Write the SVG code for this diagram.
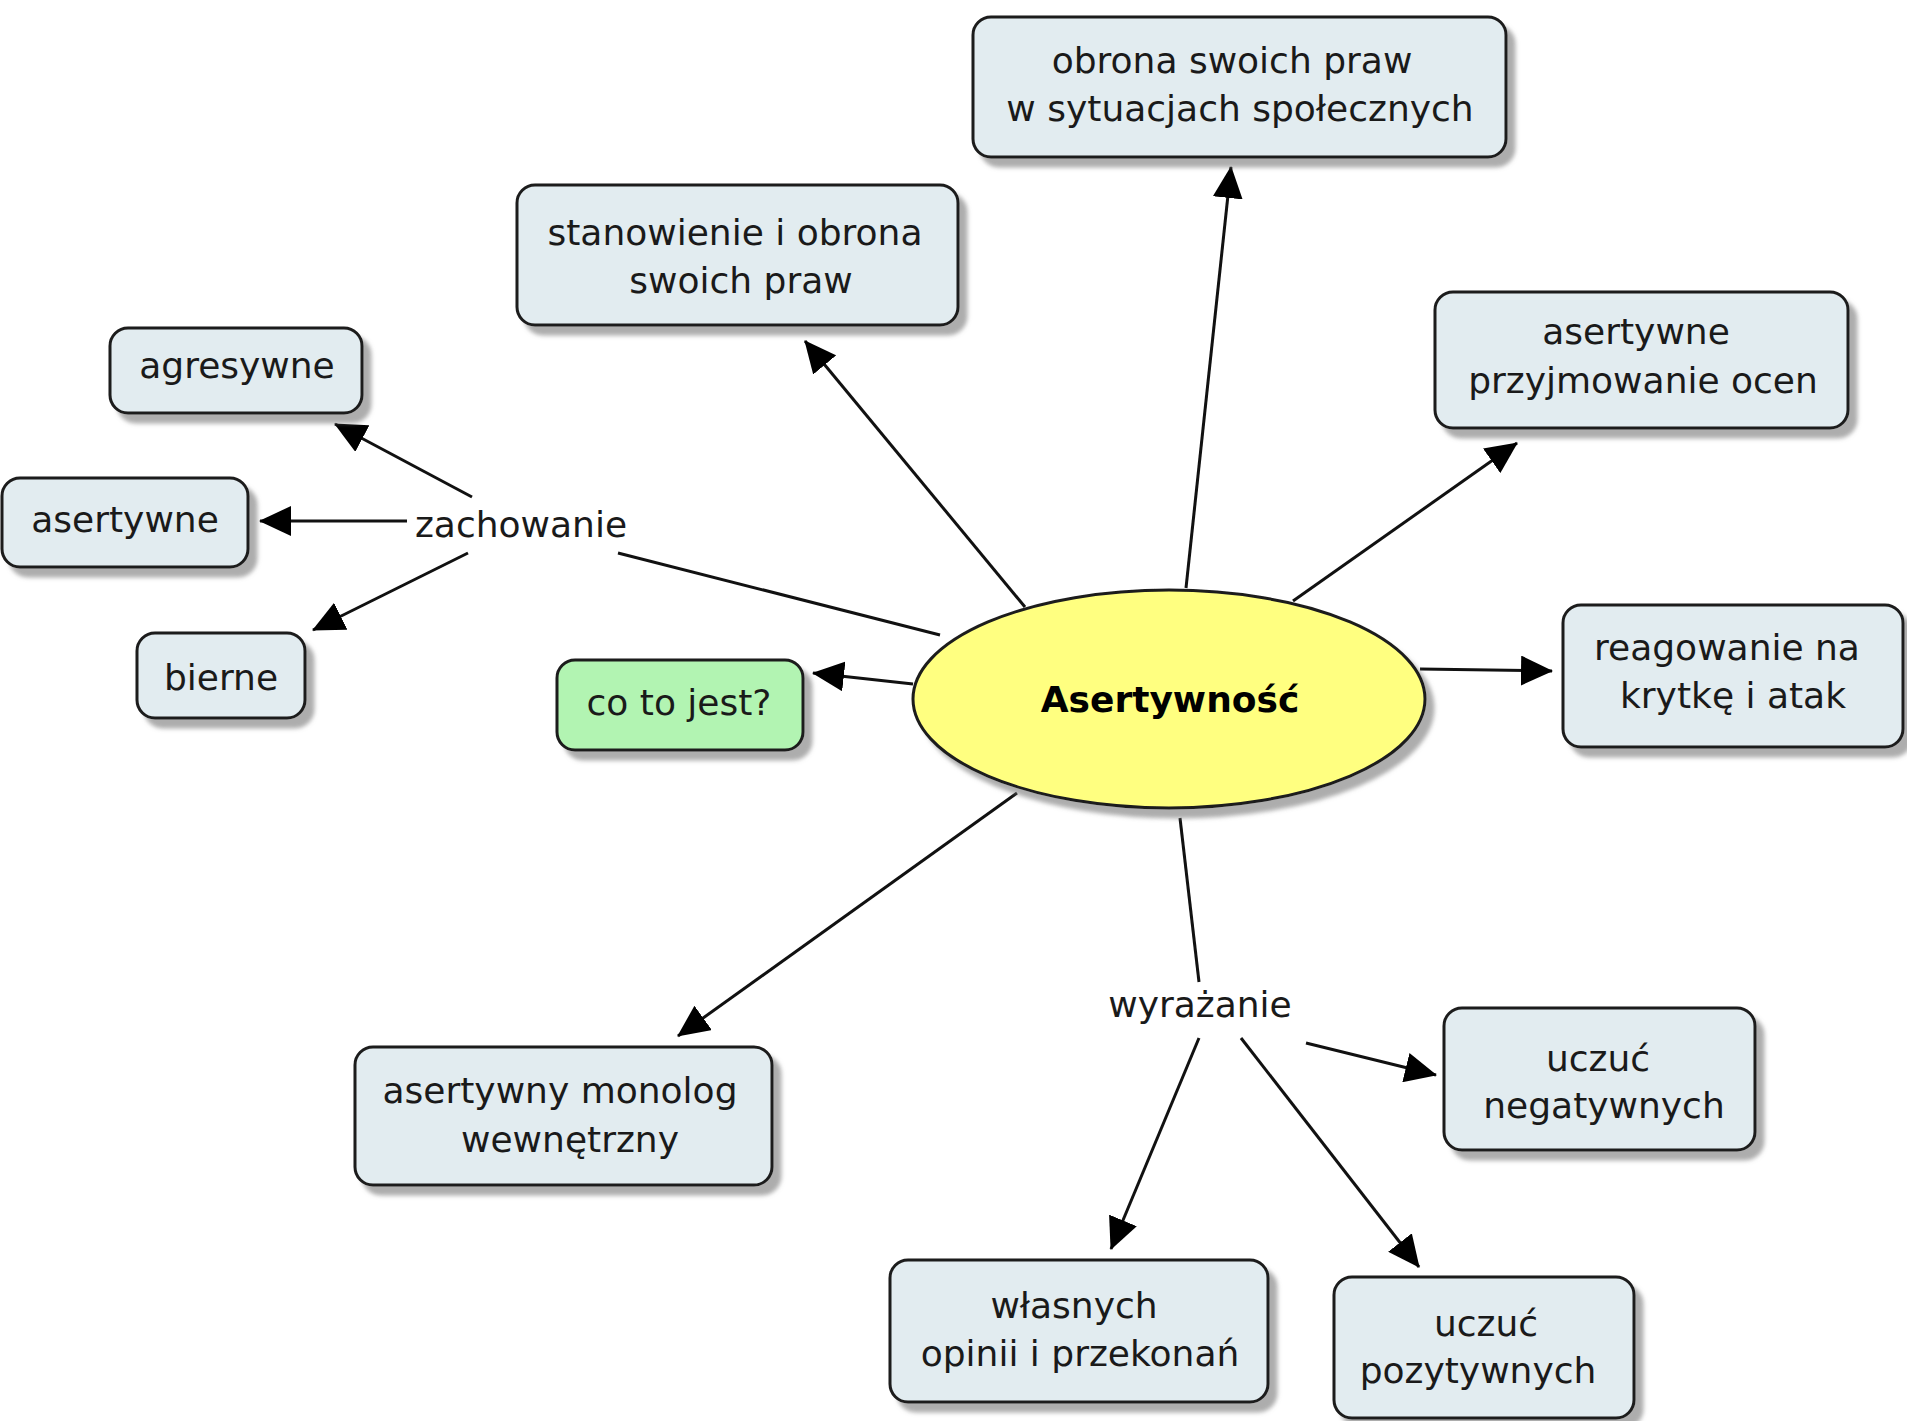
<svg xmlns="http://www.w3.org/2000/svg" width="1907" height="1421" viewBox="0 0 1907 1421">
<defs>
<filter id="sh" x="-10%" y="-10%" width="130%" height="140%">
<feDropShadow dx="8" dy="9" stdDeviation="2" flood-color="#777" flood-opacity="0.6"/>
</filter>
<marker id="ah" viewBox="0 0 32 30" refX="31" refY="15" markerWidth="32" markerHeight="30" markerUnits="userSpaceOnUse" orient="auto">
<path d="M0,0 L32,15 L0,30 Z" fill="#000"/>
</marker>
</defs>
<style>
.box{fill:#e2ecf0;stroke:#1c1c1c;stroke-width:3;filter:url(#sh)}
.green{fill:#b2f4b2;stroke:#1c1c1c;stroke-width:3;filter:url(#sh)}
.ell{fill:#ffff80;stroke:#1c1c1c;stroke-width:3;filter:url(#sh)}
text{font-family:"DejaVu Sans","Verdana",sans-serif;font-size:36px;fill:#1a1a1a;text-anchor:middle}
.bold{font-weight:bold;fill:#000}
.c{stroke:#111;stroke-width:3;fill:none}
.a{marker-end:url(#ah)}
</style>
<rect width="1907" height="1421" fill="#fff"/>
<g id="connectors">
<line class="c" x1="940" y1="635" x2="618" y2="553"/>
<line class="c a" x1="472" y1="497" x2="335" y2="424"/>
<line class="c a" x1="407" y1="521" x2="260" y2="521"/>
<line class="c a" x1="468" y1="553" x2="313" y2="630"/>
<line class="c a" x1="913" y1="684" x2="813" y2="673"/>
<line class="c a" x1="1025" y1="607" x2="805" y2="341"/>
<line class="c a" x1="1186" y1="588" x2="1231" y2="167"/>
<line class="c a" x1="1293" y1="601" x2="1517" y2="443"/>
<line class="c a" x1="1420" y1="669" x2="1552" y2="671"/>
<line class="c a" x1="1017" y1="793" x2="678" y2="1036"/>
<line class="c" x1="1180" y1="818" x2="1199" y2="982"/>
<line class="c a" x1="1199" y1="1038" x2="1111" y2="1249"/>
<line class="c a" x1="1241" y1="1038" x2="1419" y2="1267"/>
<line class="c a" x1="1306" y1="1043" x2="1436" y2="1075"/>
</g>
<g id="n-asertywnosc">
<ellipse class="ell" cx="1169" cy="699" rx="256" ry="109"/>
<text class="bold" x="1170" y="712">Asertywność</text>
</g>
<g id="n-obrona">
<rect class="box" x="973" y="17" width="533" height="140" rx="18"/>
<text x="1232" y="73">obrona swoich praw</text>
<text x="1240" y="121">w sytuacjach społecznych</text>
</g>
<g id="n-stanowienie">
<rect class="box" x="517" y="185" width="441" height="140" rx="18"/>
<text x="735" y="245">stanowienie i obrona</text>
<text x="741" y="293">swoich praw</text>
</g>
<g id="n-agresywne">
<rect class="box" x="110" y="328" width="252" height="85" rx="18"/>
<text x="237" y="378">agresywne</text>
</g>
<g id="n-asertywne">
<rect class="box" x="2" y="478" width="246" height="89" rx="18"/>
<text x="125" y="532">asertywne</text>
</g>
<g id="n-bierne">
<rect class="box" x="137" y="633" width="168" height="85" rx="18"/>
<text x="221" y="690">bierne</text>
</g>
<g id="l-zachowanie">
<text x="521" y="537">zachowanie</text>
</g>
<g id="n-cotojest">
<rect class="green" x="557" y="660" width="246" height="90" rx="18"/>
<text x="679" y="715">co to jest?</text>
</g>
<g id="n-przyjmowanie">
<rect class="box" x="1435" y="292" width="413" height="136" rx="18"/>
<text x="1636" y="344">asertywne</text>
<text x="1643" y="393">przyjmowanie ocen</text>
</g>
<g id="n-reagowanie">
<rect class="box" x="1563" y="605" width="340" height="142" rx="18"/>
<text x="1727" y="660">reagowanie na</text>
<text x="1733" y="708">krytkę i atak</text>
</g>
<g id="n-monolog">
<rect class="box" x="355" y="1047" width="417" height="138" rx="18"/>
<text x="560" y="1103">asertywny monolog</text>
<text x="570" y="1152">wewnętrzny</text>
</g>
<g id="l-wyrazanie">
<text x="1200" y="1017">wyrażanie</text>
</g>
<g id="n-negatywnych">
<rect class="box" x="1444" y="1008" width="311" height="142" rx="18"/>
<text x="1598" y="1071">uczuć</text>
<text x="1604" y="1118">negatywnych</text>
</g>
<g id="n-wlasnych">
<rect class="box" x="890" y="1260" width="378" height="142" rx="18"/>
<text x="1074" y="1318">własnych</text>
<text x="1080" y="1366">opinii i przekonań</text>
</g>
<g id="n-pozytywnych">
<rect class="box" x="1334" y="1277" width="300" height="141" rx="18"/>
<text x="1486" y="1336">uczuć</text>
<text x="1478" y="1383">pozytywnych</text>
</g>
</svg>
